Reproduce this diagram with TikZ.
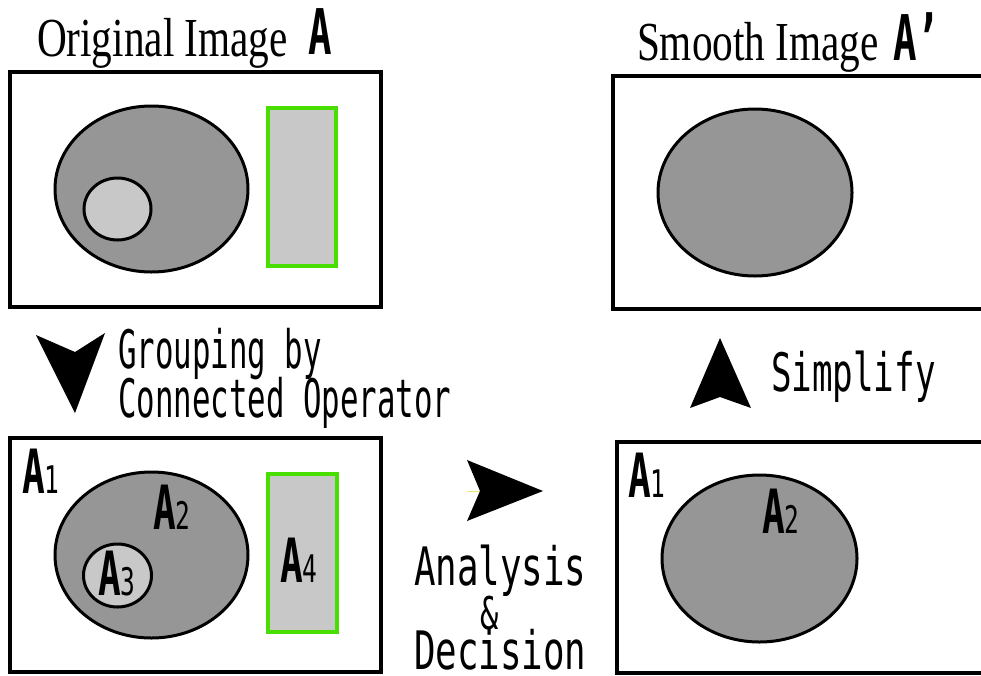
\documentclass[tikz,border=0pt]{standalone}
\usepackage{fontspec}
% serif caption face, condensed
\newfontfamily\titlefont[FakeStretch=0.75]{Liberation Serif}
% narrow gothic faces for the labels
\newfontfamily\gothN[FakeStretch=0.58]{DejaVu Sans Mono}
\newfontfamily\gothM[FakeStretch=0.645]{DejaVu Sans Mono}
\newfontfamily\gothW[FakeStretch=0.675]{DejaVu Sans Mono}
\newfontfamily\gothA[FakeStretch=0.62]{DejaVu Sans Mono Bold}
\definecolor{regiondark}{RGB}{150,150,150}
\definecolor{regionlight}{RGB}{200,200,200}
\definecolor{edgegreen}{RGB}{72,222,0}
\definecolor{tickyellow}{RGB}{232,232,110}

\newcommand{\capA}[1]{{\gothA\fontsize{61}{61}\selectfont A}{\gothM\fontsize{38}{38}\selectfont #1}}
\newcommand{\bigtitle}{\titlefont\fontsize{55}{55}\selectfont}
\newcommand{\gothsize}{\fontsize{53}{53}\selectfont}

\tikzset{
  frame/.style={draw=black, line width=3.4pt, fill=white},
  blob/.style={draw=black, line width=3pt, fill=regiondark},
  spot/.style={draw=black, line width=3pt, fill=regionlight},
  bar/.style={draw=edgegreen, line width=3.2pt, fill=regionlight},
  headshape/.style={fill=black},
  lbl/.style={inner sep=0pt, outer sep=0pt, anchor=base west},
  caption/.style={inner sep=0pt, outer sep=0pt, text depth=0pt, text height=38pt},
}

\begin{document}
\begin{tikzpicture}[x=1pt, y=-1pt]
\useasboundingbox (0,0) rectangle (981,675);

% ---- original image A (top left)
\draw[frame] (10,72) rectangle (381,307);
\draw[blob] (151.5,189) ellipse [x radius=96.5pt, y radius=83pt];
\draw[spot] (117.5,209) ellipse [x radius=33.5pt, y radius=31pt];
\draw[bar] (268,108) rectangle (336,266);
\node[lbl] (origtitle) at (37,56) {\bigtitle Original Image};
\node[lbl] (origA) at (308,54) {\gothA\fontsize{63}{63}\selectfont A};

% ---- smooth image A' (top right)
\draw[frame] (981,76) -- (613,76) -- (613,309) -- (981,309);
\draw[blob] (755,192.5) ellipse [x radius=97pt, y radius=83.5pt];
\node[lbl] (smoothtitle) at (637,60) {\bigtitle Smooth Image};
\node[lbl] (smoothA) at (893,60) {\gothA\fontsize{63}{63}\selectfont A’};

% ---- grouped regions (bottom left)
\draw[frame] (10,438) rectangle (381,672);
\draw[blob] (151.5,555) ellipse [x radius=96.5pt, y radius=83pt];
\draw[spot] (117.5,575.5) ellipse [x radius=34pt, y radius=31.5pt];
\draw[bar] (268,474) rectangle (337,632);
\node[lbl] (ga1) at (22,493) {\capA{1}};
\node[lbl] (ga2) at (153,529) {\capA{2}};
\node[lbl] (ga3) at (98,595) {\capA{3}};
\node[lbl] (ga4) at (280,582) {\capA{4}};

% ---- decided regions (bottom right)
\draw[frame] (981,442) -- (617,442) -- (617,673) -- (981,673);
\draw[blob] (759.5,558.5) ellipse [x radius=97.5pt, y radius=83.5pt];
\node[lbl] (da1) at (628,497) {\capA{1}};
\node[lbl] (da2) at (762,533) {\capA{2}};

% ---- step arrows
\fill[headshape] (36,335) -- (75,352) -- (105,333) -- (75,413) -- cycle;
\draw[tickyellow, line width=1pt] (467,491) -- (481,491);
\fill[headshape] (467,460) -- (543,491) -- (467,521) -- (480,491) -- cycle;
\fill[headshape] (720,338) -- (751,408) -- (720,397) -- (690,408) -- cycle;

% ---- step captions
\node[lbl] (grp1) at (118,368) {\gothN\gothsize Grouping by};
\node[lbl] (grp2) at (118,417) {\gothN\gothsize Connected Operator};
\node[lbl] (simp) at (771,391) {\gothM\gothsize Simplify};
\node[caption, anchor=base west] (ana) at (414,585) {\gothW\gothsize Analysis};
\node[caption, anchor=base, text height=32pt] (amp) at (490,629) {\gothW\fontsize{45}{45}\selectfont \&};
\node[caption, anchor=base west] (dec) at (414,669) {\gothW\gothsize Decision};
\end{tikzpicture}
\end{document}
